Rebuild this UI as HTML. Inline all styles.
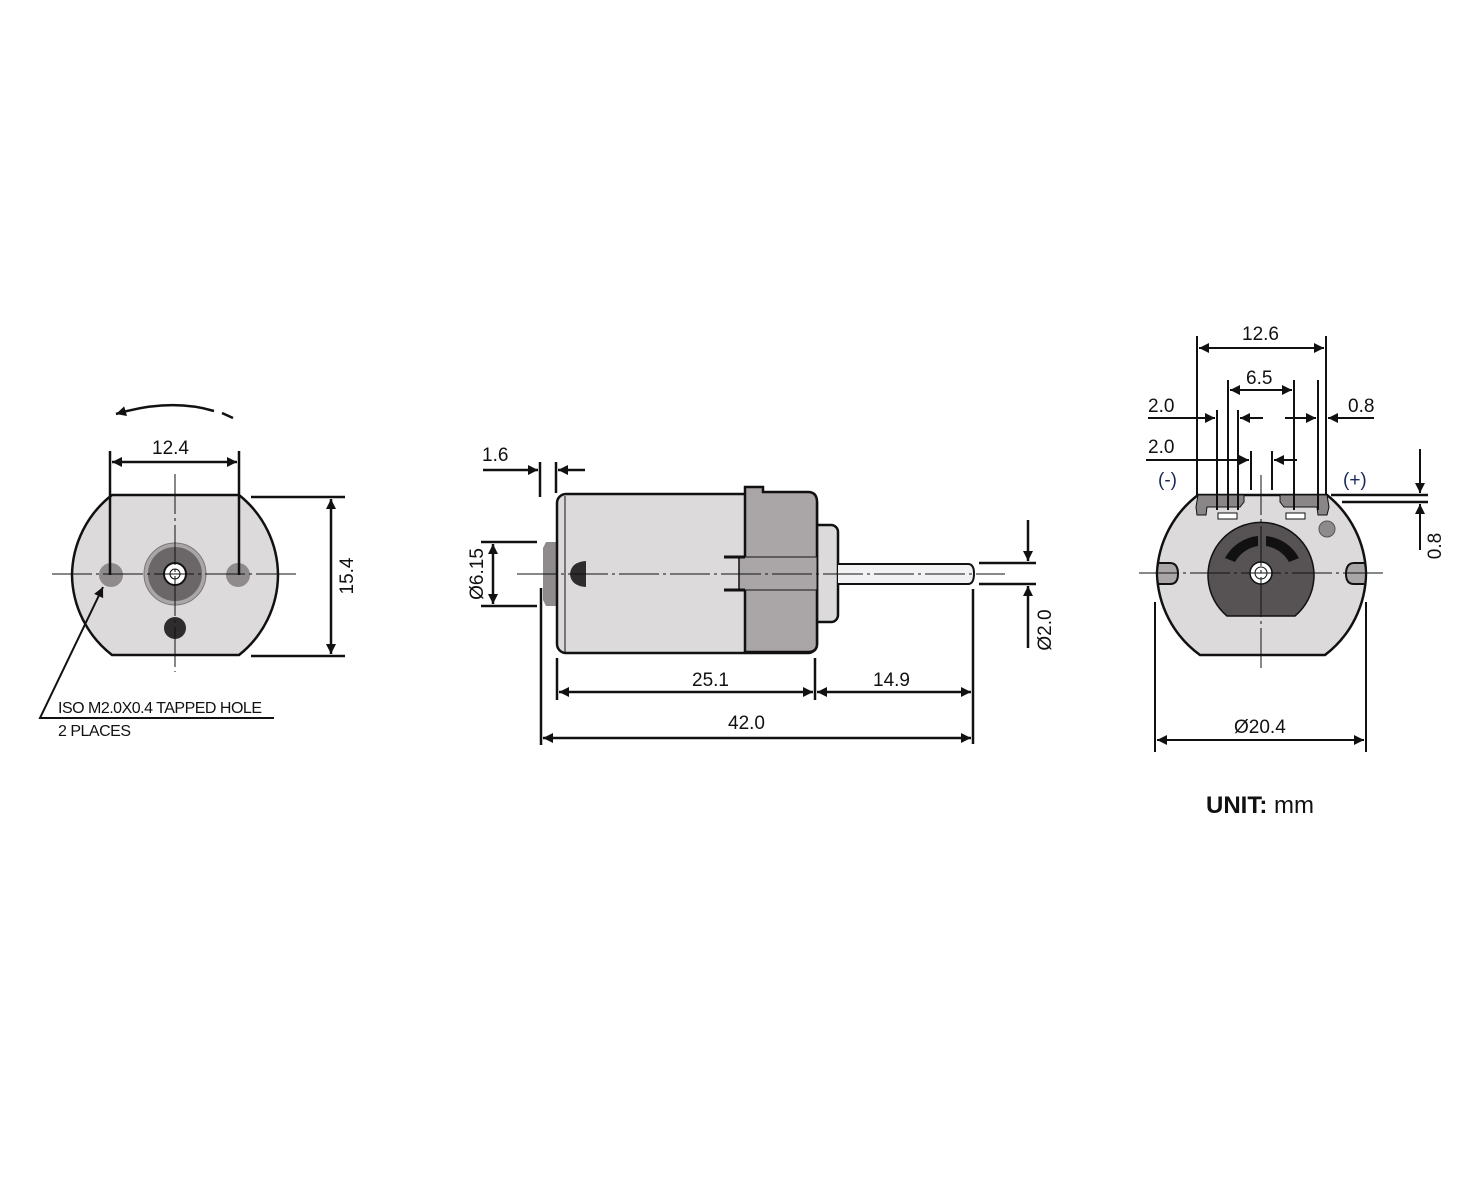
<!DOCTYPE html>
<html><head><meta charset="utf-8"><style>
html,body{margin:0;padding:0;background:#fff;}
svg{display:block}
text{font-family:"Liberation Sans",sans-serif;fill:#111;font-size:19px}
</style></head><body>
<svg width="1482" height="1177" viewBox="0 0 1482 1177" xmlns="http://www.w3.org/2000/svg">
<defs>
<marker id="a" viewBox="0 0 10 10" refX="10" refY="5" markerWidth="20" markerHeight="10" markerUnits="userSpaceOnUse" orient="auto-start-reverse"><path d="M0,0 L10,5 L0,10 z" fill="#111"/></marker>
</defs>

<!-- LEFT VIEW -->
<path d="M112,495 L239,495 A103,103 0 1 1 239,655 Z" fill="none"/>
<path d="M112,495 L239,495 A103,103 0 0 1 239,655 L112,655 A103,103 0 0 1 112,495 Z" fill="#dcdadb" stroke="#111" stroke-width="2.5" transform="translate(0,0)" opacity="0"/>
<path d="M112,495 L239,495 A103,103 0 0 1 278,575 A103,103 0 0 1 239,655 L112,655 A103,103 0 0 1 72,575 A103,103 0 0 1 112,495 Z" fill="#dcdadb" stroke="#111" stroke-width="2.5"/>
<circle cx="111" cy="575" r="12" fill="#8f8b8c"/>
<circle cx="238" cy="575" r="12" fill="#8f8b8c"/>
<circle cx="175" cy="574" r="31" fill="#aaa6a7" stroke="#777" stroke-width="1"/>
<circle cx="175" cy="574" r="27" fill="#6b6768"/>
<circle cx="175" cy="574" r="11" fill="#fff" stroke="#111" stroke-width="2"/>
<circle cx="175" cy="574" r="5" fill="#fff" stroke="#111" stroke-width="1"/>
<circle cx="175" cy="628" r="11" fill="#2e2c2d"/>
<line x1="52" y1="574" x2="297" y2="574" stroke="#111" stroke-width="1" stroke-dasharray="40,4,3,4"/>
<line x1="175" y1="474" x2="175" y2="672" stroke="#111" stroke-width="1" stroke-dasharray="40,4,3,4"/>
<line x1="110" y1="451" x2="110" y2="575" stroke="#111" stroke-width="2.5"/>
<line x1="239" y1="451" x2="239" y2="575" stroke="#111" stroke-width="2.5"/>
<line x1="112" y1="462" x2="237" y2="462" stroke="#111" stroke-width="2.5" marker-start="url(#a)" marker-end="url(#a)"/>
<text x="152" y="454">12.4</text>
<line x1="251" y1="497" x2="345" y2="497" stroke="#111" stroke-width="2.5"/>
<line x1="251" y1="656" x2="345" y2="656" stroke="#111" stroke-width="2.5"/>
<line x1="331" y1="499" x2="331" y2="654" stroke="#111" stroke-width="2.5" marker-start="url(#a)" marker-end="url(#a)"/>
<text transform="translate(353,576) rotate(-90)" text-anchor="middle">15.4</text>
<path d="M214,411 Q170,398 116,414" fill="none" stroke="#111" stroke-width="2.5" marker-end="url(#a)"/>
<line x1="222" y1="413" x2="233" y2="418" stroke="#111" stroke-width="2.5"/>
<polyline points="274,718 40,718 103,587" fill="none" stroke="#111" stroke-width="2" marker-end="url(#a)"/>
<text x="58" y="713" style="font-size:16px;letter-spacing:-0.5px">ISO M2.0X0.4 TAPPED HOLE</text>
<text x="58" y="736" style="font-size:16px;letter-spacing:-0.5px">2 PLACES</text>

<!-- MIDDLE VIEW -->
<path d="M543,548 L546,542 L557,542 L557,606 L546,606 L543,600 Z" fill="#8f8b8c"/>
<rect x="811" y="525" width="27" height="97" rx="7" fill="#dcdadb" stroke="#111" stroke-width="2.5"/>
<rect x="557" y="494" width="260" height="159" rx="9" fill="#dcdadb" stroke="#111" stroke-width="2.5"/>
<path d="M745,495 L745,487 L763,487 L763,492 L808,492 Q817,492 817,502 L817,644 Q817,652 808,652 L745,652 Z" fill="#aaa6a7" stroke="#111" stroke-width="2.5"/>
<line x1="565" y1="496" x2="565" y2="652" stroke="#111" stroke-width="1"/>
<rect x="739" y="557" width="78" height="33" fill="#aaa6a7" stroke="#111" stroke-width="1"/>
<line x1="724" y1="557" x2="745" y2="557" stroke="#111" stroke-width="3"/>
<line x1="724" y1="590" x2="745" y2="590" stroke="#111" stroke-width="3"/>
<line x1="739" y1="557" x2="739" y2="590" stroke="#111" stroke-width="1.5"/>
<path d="M586,561 Q571,562 570,574 L586,574 Z M570,574 Q571,586 586,587 L586,574 Z" fill="#2e2c2d"/>
<path d="M838,564 L968,564 Q974,564 974,573.5 Q974,584 968,584 L838,584" fill="#f2f2f4" stroke="#111" stroke-width="2"/>
<line x1="517" y1="574" x2="1005" y2="574" stroke="#111" stroke-width="1" stroke-dasharray="40,4,3,4"/>
<line x1="540" y1="462" x2="540" y2="497" stroke="#111" stroke-width="2.5"/>
<line x1="556" y1="462" x2="556" y2="493" stroke="#111" stroke-width="2.5"/>
<line x1="483" y1="470" x2="538" y2="470" stroke="#111" stroke-width="2.5" marker-end="url(#a)"/>
<line x1="585" y1="470" x2="558" y2="470" stroke="#111" stroke-width="2.5" marker-end="url(#a)"/>
<text x="482" y="461">1.6</text>
<line x1="481" y1="542" x2="537" y2="542" stroke="#111" stroke-width="2.5"/>
<line x1="481" y1="606" x2="537" y2="606" stroke="#111" stroke-width="2.5"/>
<line x1="493" y1="544" x2="493" y2="604" stroke="#111" stroke-width="2.5" marker-start="url(#a)" marker-end="url(#a)"/>
<text transform="translate(483,574) rotate(-90)" text-anchor="middle">Ø6.15</text>
<line x1="541" y1="588" x2="541" y2="745" stroke="#111" stroke-width="2.5"/>
<line x1="557" y1="658" x2="557" y2="700" stroke="#111" stroke-width="2.5"/>
<line x1="815" y1="658" x2="815" y2="700" stroke="#111" stroke-width="2.5"/>
<line x1="973" y1="589" x2="973" y2="744" stroke="#111" stroke-width="2.5"/>
<line x1="559" y1="692" x2="813" y2="692" stroke="#111" stroke-width="2.5" marker-start="url(#a)" marker-end="url(#a)"/>
<line x1="817" y1="692" x2="971" y2="692" stroke="#111" stroke-width="2.5" marker-start="url(#a)" marker-end="url(#a)"/>
<line x1="543" y1="738" x2="971" y2="738" stroke="#111" stroke-width="2.5" marker-start="url(#a)" marker-end="url(#a)"/>
<text x="692" y="686">25.1</text>
<text x="873" y="686">14.9</text>
<text x="728" y="729">42.0</text>
<line x1="979" y1="563" x2="1036" y2="563" stroke="#111" stroke-width="2.5"/>
<line x1="979" y1="584" x2="1036" y2="584" stroke="#111" stroke-width="2.5"/>
<line x1="1028" y1="520" x2="1028" y2="561" stroke="#111" stroke-width="2.5" marker-end="url(#a)"/>
<line x1="1028" y1="648" x2="1028" y2="586" stroke="#111" stroke-width="2.5" marker-end="url(#a)"/>
<text transform="translate(1051,630) rotate(-90)" text-anchor="middle">Ø2.0</text>

<!-- RIGHT VIEW -->
<path d="M1198,495 L1327,495 A104,104 0 0 1 1366,573 A104,104 0 0 1 1325,655 L1200,655 A104,104 0 0 1 1157,573 A104,104 0 0 1 1198,495 Z" fill="#dcdadb" stroke="#111" stroke-width="2.5"/>
<path d="M1198,495 L1244,495 L1244,502 L1240,507 L1207,507 L1206,515 L1197,515 L1196,507 Z" fill="#8a8687" stroke="#111" stroke-width="1"/>
<path d="M1280,495 L1327,495 L1329,507 L1327,515 L1318,515 L1317,507 L1284,507 L1280,502 Z" fill="#8a8687" stroke="#111" stroke-width="1"/>
<rect x="1218" y="513" width="19" height="6" fill="#fff" stroke="#111" stroke-width="1"/>
<rect x="1286" y="513" width="19" height="6" fill="#fff" stroke="#111" stroke-width="1"/>
<circle cx="1327" cy="529" r="8" fill="#8f8b8c" stroke="#555" stroke-width="1"/>
<path d="M1227,616 A53,53 0 1 1 1295,616 Z" fill="#575354" stroke="#111" stroke-width="1.5"/>
<path d="M1225,558 A42,42 0 0 1 1258,536 L1258,546 A32,32 0 0 0 1235,562 Z" fill="#111"/>
<path d="M1266,536 A42,42 0 0 1 1299,558 L1289,562 A32,32 0 0 0 1266,546 Z" fill="#111"/>
<circle cx="1261" cy="573" r="11" fill="#fff" stroke="#111" stroke-width="1.5"/>
<circle cx="1261" cy="573" r="6" fill="#fff" stroke="#111" stroke-width="1"/>
<path d="M1159,563 L1170,563 Q1178,563 1178,574 Q1178,584 1170,584 L1159,584" fill="#aaa6a7" stroke="#111" stroke-width="2"/>
<path d="M1364,563 L1354,563 Q1346,563 1346,574 Q1346,584 1354,584 L1364,584" fill="#aaa6a7" stroke="#111" stroke-width="2"/>
<line x1="1139" y1="573" x2="1385" y2="573" stroke="#111" stroke-width="1" stroke-dasharray="40,4,3,4"/>
<line x1="1261" y1="475" x2="1261" y2="672" stroke="#111" stroke-width="1" stroke-dasharray="40,4,3,4"/>
<g stroke="#111" stroke-width="2">
<line x1="1197" y1="336" x2="1197" y2="495"/>
<line x1="1326" y1="336" x2="1326" y2="495"/>
<line x1="1217" y1="410" x2="1217" y2="510"/>
<line x1="1228" y1="380" x2="1228" y2="510"/>
<line x1="1238" y1="410" x2="1238" y2="510"/>
<line x1="1251" y1="451" x2="1251" y2="490"/>
<line x1="1272" y1="451" x2="1272" y2="490"/>
<line x1="1294" y1="380" x2="1294" y2="510"/>
<line x1="1318" y1="380" x2="1318" y2="510"/>
</g>
<line x1="1199" y1="348" x2="1324" y2="348" stroke="#111" stroke-width="2" marker-start="url(#a)" marker-end="url(#a)"/>
<text x="1242" y="340">12.6</text>
<line x1="1230" y1="390" x2="1292" y2="390" stroke="#111" stroke-width="2" marker-start="url(#a)" marker-end="url(#a)"/>
<text x="1246" y="384">6.5</text>
<line x1="1148" y1="418" x2="1215" y2="418" stroke="#111" stroke-width="2" marker-end="url(#a)"/>
<line x1="1263" y1="418" x2="1240" y2="418" stroke="#111" stroke-width="2" marker-end="url(#a)"/>
<line x1="1285" y1="418" x2="1316" y2="418" stroke="#111" stroke-width="2" marker-end="url(#a)"/>
<line x1="1374" y1="418" x2="1328" y2="418" stroke="#111" stroke-width="2" marker-end="url(#a)"/>
<text x="1148" y="412">2.0</text>
<text x="1348" y="412">0.8</text>
<line x1="1146" y1="460" x2="1249" y2="460" stroke="#111" stroke-width="2" marker-end="url(#a)"/>
<line x1="1297" y1="460" x2="1274" y2="460" stroke="#111" stroke-width="2" marker-end="url(#a)"/>
<text x="1148" y="453">2.0</text>
<text x="1158" y="486" style="fill:#1a2a5a">(-)</text>
<text x="1343" y="486" style="fill:#1a2a5a">(+)</text>
<line x1="1331" y1="495" x2="1428" y2="495" stroke="#111" stroke-width="2.5"/>
<line x1="1342" y1="502" x2="1428" y2="502" stroke="#111" stroke-width="2.5"/>
<line x1="1420" y1="449" x2="1420" y2="493" stroke="#111" stroke-width="2" marker-end="url(#a)"/>
<line x1="1420" y1="550" x2="1420" y2="504" stroke="#111" stroke-width="2" marker-end="url(#a)"/>
<text transform="translate(1441,546) rotate(-90)" text-anchor="middle">0.8</text>
<line x1="1155" y1="602" x2="1155" y2="752" stroke="#111" stroke-width="2"/>
<line x1="1366" y1="602" x2="1366" y2="752" stroke="#111" stroke-width="2"/>
<line x1="1157" y1="740" x2="1364" y2="740" stroke="#111" stroke-width="2" marker-start="url(#a)" marker-end="url(#a)"/>
<text x="1234" y="733">Ø20.4</text>
<text x="1206" y="813" style="font-size:24px"><tspan style="font-weight:bold">UNIT:</tspan> mm</text>
</svg>
</body></html>
